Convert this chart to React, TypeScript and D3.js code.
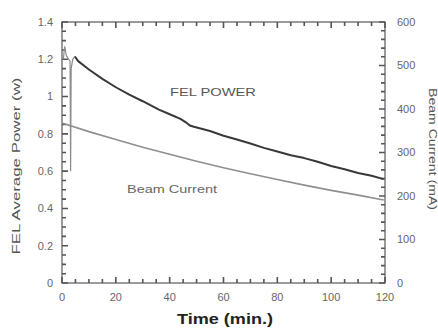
import React from "react";
import * as d3 from "d3";

// ---- data ----
const felTimeEarly = [0.5, 1.0, 1.6, 2.5, 3.0, 3.2, 3.4, 4.0, 4.8];
const felPowerEarly = [1.2, 1.27, 1.22, 1.2, 1.19, 0.6, 1.15, 1.2, 1.215];

const felTime = [4.8, 6, 10, 15, 20, 25, 30, 36, 40, 44, 46, 47.5, 49, 55, 60, 65, 70, 75, 80, 85, 90, 95, 100, 105, 110, 115, 119.5];
const felPower = [1.215, 1.19, 1.145, 1.095, 1.05, 1.01, 0.975, 0.93, 0.905, 0.88, 0.862, 0.845, 0.838, 0.815, 0.79, 0.77, 0.748, 0.725, 0.705, 0.685, 0.67, 0.65, 0.628, 0.61, 0.59, 0.575, 0.557];

const beamTime = [0, 10, 20, 30, 40, 50, 60, 70, 80, 90, 100, 110, 119.5];
const beamCurrent = [368, 348, 330, 312, 296, 280, 265, 251, 238, 225, 213, 202, 191];

const xTicks = [0, 20, 40, 60, 80, 100, 120];
const yLeftTicks = [0, 0.2, 0.4, 0.6, 0.8, 1, 1.2, 1.4];
const yRightTicks = [0, 100, 200, 300, 400, 500, 600];

const W = 438, H = 329;
const M = { left: 62, right: 385, top: 22, bottom: 283 };
const FONT = "'Liberation Sans', Arial, Helvetica, sans-serif";

export default function App() {
  const x = d3.scaleLinear().domain([0, 120]).range([M.left, M.right]);
  const yL = d3.scaleLinear().domain([0, 1.4]).range([M.bottom, M.top]);
  const yR = d3.scaleLinear().domain([0, 600]).range([M.bottom, M.top]);

  const axisColor = "#666";
  const labelColor = "#666";

  const xMinor = d3.range(0, 121, 5);
  const yLMinor = d3.range(0, 1.4001, 0.05);
  const yRMinor = d3.range(0, 601, 20);

  const mk = (xs: number[], ys: number[], yScale: any) =>
    d3.line<[number, number]>().x(d => x(d[0])).y(d => yScale(d[1]))(xs.map((t, i) => [t, ys[i]])) || "";

  const MAJ = 6, MIN = 4;

  const tp = d3.path();
  xMinor.forEach(v => {
    const len = xTicks.includes(v) ? MAJ : MIN;
    tp.moveTo(x(v), M.bottom); tp.lineTo(x(v), M.bottom - len);
    tp.moveTo(x(v), M.top); tp.lineTo(x(v), M.top + len);
  });
  yLMinor.forEach(v => {
    const len = yLeftTicks.some(t => Math.abs(t - v) < 1e-6) ? MAJ : MIN;
    tp.moveTo(M.left, yL(v)); tp.lineTo(M.left + len, yL(v));
  });
  yRMinor.forEach(v => {
    const len = yRightTicks.includes(v) ? MAJ : MIN;
    tp.moveTo(M.right, yR(v)); tp.lineTo(M.right - len, yR(v));
  });

  return (
    <svg width={W} height={H}
      style={{ position: "absolute", left: 0, top: 0, background: "#fff" }}>
      <rect x={M.left} y={M.top} width={M.right - M.left} height={M.bottom - M.top}
        fill="none" stroke={axisColor} strokeWidth={1.3} />
      <path d={tp.toString()} fill="none" stroke="#555" strokeWidth={1.6} />
      <g fill={labelColor} fontFamily={FONT} fontSize={11}>
        {xTicks.map(v => (
          <text key={"xt" + v} x={x(v)} y={M.bottom + 18} textAnchor="middle">{d3.format("d")(v)}</text>
        ))}
        {yLeftTicks.map(v => (
          <text key={"lt" + v} x={M.left - 9} y={yL(v)} dy="0.35em" textAnchor="end">{String(+v.toFixed(1))}</text>
        ))}
        {yRightTicks.map(v => (
          <text key={"rt" + v} x={M.right + 12} y={yR(v)} dy="0.35em" textAnchor="start">{d3.format("d")(v)}</text>
        ))}
      </g>

      <path d={mk(beamTime, beamCurrent, yR)} fill="none" stroke="#8f8f8f" strokeWidth={1.6} />
      <path d={mk(felTimeEarly, felPowerEarly, yL)} fill="none" stroke="#8c8c8c" strokeWidth={1.2} />
      <path d={mk(felTime, felPower, yL)} fill="none" stroke="#383838" strokeWidth={2} strokeLinejoin="round" />

      <text x={170} y={96} fontFamily={FONT} fontSize={11} fill="#555"
        textLength={86} lengthAdjust="spacingAndGlyphs">FEL POWER</text>
      <text x={127} y={193} fontFamily={FONT} fontSize={11} fill="#666"
        textLength={90} lengthAdjust="spacingAndGlyphs">Beam Current</text>

      <text transform="translate(20,166) rotate(-90)" textAnchor="middle" fontFamily={FONT} fontSize={11} fill="#555"
        textLength={177} lengthAdjust="spacingAndGlyphs">FEL Average Power (w)</text>
      <text transform="translate(429,149) rotate(90)" textAnchor="middle" fontFamily={FONT} fontSize={11} fill="#555"
        textLength={122} lengthAdjust="spacingAndGlyphs">Beam Current (mA)</text>
      <text x={225} y={324} textAnchor="middle" fontFamily={FONT} fontSize={15} fontWeight="bold" fill="#222"
        textLength={96} lengthAdjust="spacingAndGlyphs">Time (min.)</text>
    </svg>
  );
}
